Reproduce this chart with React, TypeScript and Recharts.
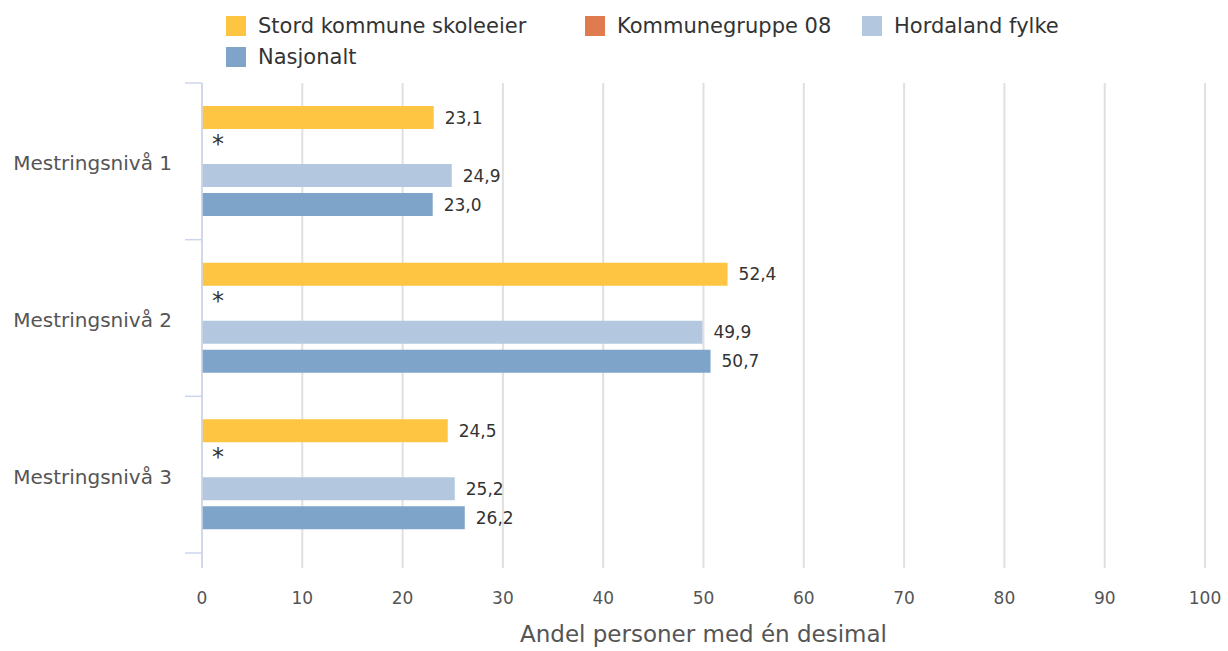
import React from 'react';
import { Bar, BarChart, CartesianGrid, Label, LabelList, Legend, XAxis, YAxis } from 'recharts';

const categories = ['Mestringsnivå 1', 'Mestringsnivå 2', 'Mestringsnivå 3'];
const seriesNames = ['Stord kommune skoleeier', 'Kommunegruppe 08', 'Hordaland fylke', 'Nasjonalt'];
const seriesColors = ['#fdc541', '#e07b4f', '#b3c8de', '#7fa4c9'];
const stord = [23.1, 52.4, 24.5];
const kommunegruppe: (number | null)[] = [null, null, null];
const hordaland = [24.9, 49.9, 25.2];
const nasjonalt = [23.0, 50.7, 26.2];
const xTicks = [0, 10, 20, 30, 40, 50, 60, 70, 80, 90, 100];
const axisTitle = 'Andel personer med én desimal';

const seriesKeys = ['s0', 's1', 's2', 's3'];
const seriesValues = [stord, kommunegruppe, hordaland, nasjonalt];

const data = categories.map((name, i) => {
  const row: Record<string, string | number | null> = { name };
  seriesKeys.forEach((k, s) => {
    row[k] = seriesValues[s][i];
  });
  return row;
});

const font = '"DejaVu Sans", Verdana, sans-serif';
const BAR = 23;
const GAP = 6;

const fmt = (v: number) => v.toFixed(1).replace('.', ',');

// value label; for the first series also marks the missing Kommunegruppe bar with "*"
const makeLabel = (seriesIdx: number) => (props: any) => {
  const { x = 0, y = 0, width = 0, height = 0, value, index } = props;
  const missingNext =
    seriesIdx === 0 && index !== undefined && seriesValues[1][index] === null;
  return (
    <g>
      {value !== null && value !== undefined && (
        <text
          x={Number(x) + Number(width) + 11}
          y={Number(y) + Number(height) / 2}
          dominantBaseline="central"
          fontSize={17}
          fill="#333"
          fontFamily={font}
        >
          {fmt(Number(value))}
        </text>
      )}
      {missingNext && (
        <text x={Number(x) + 10} y={Number(y) + BAR + GAP + 17} fontSize={24} fill="#333" fontFamily={font}>
          *
        </text>
      )}
    </g>
  );
};

const CategoryTick = (props: any) => {
  const { x, y, payload, index, visibleTicksCount } = props;
  const half = payload?.offset || 78.3;
  return (
    <g>
      <line x1={x - 17} x2={x} y1={y - half} y2={y - half} stroke="#ccd6eb" strokeWidth={1.5} />
      {index === visibleTicksCount - 1 && (
        <line x1={x - 17} x2={x} y1={y + half} y2={y + half} stroke="#ccd6eb" strokeWidth={1.5} />
      )}
      <text
        x={x - 30}
        y={y + 2}
        textAnchor="end"
        dominantBaseline="central"
        fontSize={20}
        fill="#555"
        fontFamily={font}
      >
        {payload.value}
      </text>
    </g>
  );
};

const legendCols = ['359px', '277px', 'auto'];

const renderLegend = (props: any) => {
  const payload = [...(props.payload || [])].sort(
    (a: any, b: any) => seriesNames.indexOf(a.value) - seriesNames.indexOf(b.value)
  );
  return (
    <div
      style={{
        display: 'grid',
        gridTemplateColumns: legendCols.join(' '),
        rowGap: 9,
        fontFamily: font,
        fontSize: 21,
        color: '#333',
      }}
    >
      {payload.map((entry: any, i: number) => (
        <div key={`leg-${i}`} style={{ display: 'flex', alignItems: 'center', height: 22 }}>
          <span style={{ width: 20, height: 20, background: entry.color, marginRight: 12, display: 'inline-block' }} />
          <span>{entry.value}</span>
        </div>
      ))}
    </div>
  );
};

const App: React.FC = () => {
  return (
    <div style={{ position: 'absolute', left: 0, top: 0, width: 1228, height: 651, background: '#fff' }}>
      <BarChart
        width={1228}
        height={651}
        layout="vertical"
        data={data}
        margin={{ top: 83, right: 23, left: 0, bottom: 3 }}
        barSize={BAR}
        barGap={GAP}
      >
        <CartesianGrid horizontal={false} stroke="#e0e0e0" strokeWidth={2} />
        <XAxis
          type="number"
          domain={[0, 100]}
          ticks={xTicks}
          axisLine={false}
          tickLine={false}
          tickSize={0}
          tickMargin={24}
          height={80}
          tick={{ fontSize: 17, fill: '#555', fontFamily: font }}
        >
          <Label
            value={axisTitle}
            position="insideBottom"
            offset={6}
            style={{ fontSize: 23, fill: '#555', fontFamily: font }}
          />
        </XAxis>
        <YAxis
          type="category"
          dataKey="name"
          width={202}
          axisLine={{ stroke: '#ccd6eb', strokeWidth: 1.5 }}
          tickLine={false}
          tickSize={0}
          tickMargin={0}
          padding={{ top: 0, bottom: 15 }}
          tick={<CategoryTick />}
          interval={0}
        />
        <Legend
          layout="horizontal"
          verticalAlign="middle"
          align="center"
          content={renderLegend}
          wrapperStyle={{ top: 15, left: 226, width: 900, height: 60 }}
        />
        {seriesKeys.map((k, s) => (
          <Bar key={k} dataKey={k} name={seriesNames[s]} fill={seriesColors[s]} isAnimationActive={false}>
            <LabelList dataKey={k} content={makeLabel(s)} />
          </Bar>
        ))}
      </BarChart>
    </div>
  );
};

export default App;
